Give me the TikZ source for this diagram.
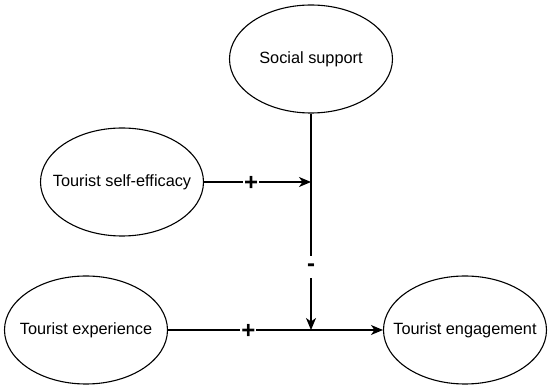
\documentclass[tikz,border=0pt]{standalone}
\usepackage{fontspec}
\setmainfont{Liberation Sans}
\usetikzlibrary{arrows.meta,shapes.geometric}
\begin{document}
\begin{tikzpicture}[x=1pt,y=-1pt,
  ell/.style={draw,line width=1.1pt,ellipse,minimum width=163pt,minimum height=108pt,inner sep=0pt},
  txt/.style={font=\fontsize{16.3}{19}\selectfont,inner sep=0pt},
  conn/.style={line width=1.1pt,-{Stealth[length=12pt,width=10pt,inset=3.5pt]}},
  sign/.style={font=\bfseries\fontsize{24}{26}\selectfont,fill=white,inner xsep=1pt,inner ysep=0pt}]
\useasboundingbox (0,0) rectangle (550,390);
\node[ell] (ss) at (311,59) {};
\node[txt] (ssl) at (ss.center) {Social support};
\node[ell] (se) at (122,182) {};
\node[txt] (sel) at (se.center) {Tourist self-efficacy};
\node[ell] (te) at (86,330) {};
\node[txt] (tel) at (te.center) {Tourist experience};
\node[ell] (eng) at (465,330) {};
\node[txt] (engl) at (eng.center) {Tourist engagement};
\coordinate (m1) at (311,182);
\coordinate (m2) at (311,330);
\draw[conn] (se) -- node[sign,pos=0.44,yshift=-1.5pt] {+} (m1);
\draw[conn] (ss) -- node[sign,pos=0.71,minimum height=22pt] {-} (m2);
\draw[conn] (te) -- node[sign,pos=0.374,yshift=-1.5pt] {+} (eng);
\end{tikzpicture}
\end{document}
